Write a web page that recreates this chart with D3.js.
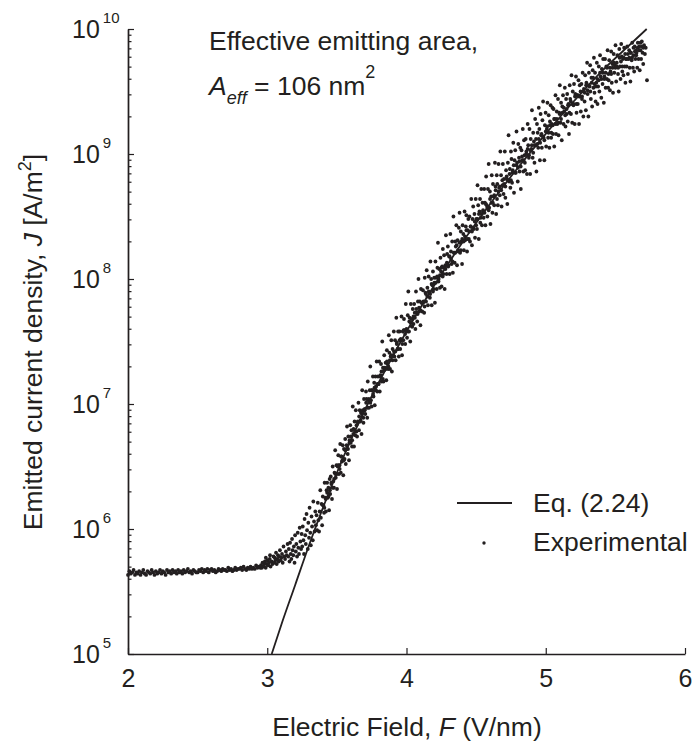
<!DOCTYPE html>
<html><head><meta charset="utf-8">
<script src="https://cdn.jsdelivr.net/npm/d3@7"></script>
<style>
body{margin:0;background:#fff;}
svg{display:block;font-family:"Liberation Sans",Arial,Helvetica,sans-serif;}
</style></head><body>
<svg id="chart" width="697" height="748"></svg>
<script>
// ---------- DATA ----------
const xTicks = [2, 3, 4, 5, 6];
const yDecades = [5, 6, 7, 8, 9, 10];
const yMinorMultipliers = [2, 3, 4, 5, 6, 7, 8, 9];

// Eq. (2.24) curve (F in V/nm, J in A/m^2)
const eqF = [3.032, 3.10, 3.20, 3.30, 3.40, 3.50, 3.60, 3.70, 3.80, 3.90, 4.00, 4.20, 4.40, 4.60, 4.80, 5.00, 5.20, 5.40, 5.60, 5.725];
const eqJ = [1.00e5, 1.70e5, 3.55e5, 7.41e5, 1.48e6, 2.82e6, 5.13e6, 8.91e6, 1.48e7, 2.40e7, 3.80e7, 8.91e7, 1.95e8, 3.98e8, 7.76e8, 1.45e9, 2.63e9, 4.57e9, 7.41e9, 1.0e10];

// Experimental points: plateau (F, log10 J)
const plateauF = [2.00,2.01,2.02,2.03,2.04,2.05,2.06,2.07,2.08,2.09,
2.10,2.11,2.12,2.13,2.14,2.15,2.16,2.17,2.18,2.19,
2.20,2.21,2.22,2.23,2.24,2.25,2.26,2.27,2.28,2.29,
2.30,2.31,2.32,2.33,2.34,2.35,2.36,2.37,2.38,2.39,
2.40,2.41,2.42,2.43,2.44,2.45,2.46,2.47,2.48,2.49,
2.50,2.51,2.52,2.53,2.54,2.55,2.56,2.57,2.58,2.59,
2.60,2.61,2.62,2.63,2.64,2.65,2.66,2.67,2.68,2.69,
2.70,2.71,2.72,2.73,2.74,2.75,2.76,2.77,2.78,2.79,
2.80,2.81,2.82,2.83,2.84,2.85,2.86,2.87,2.88,2.89,
2.90,2.91,2.92,2.93,2.94,2.95];
const plateauLog10J = [5.633,5.663,5.643,5.653,5.672,5.633,5.653,5.643,5.663,5.633,
5.653,5.672,5.643,5.633,5.663,5.653,5.643,5.672,5.653,5.633,
5.663,5.643,5.653,5.672,5.643,5.663,5.653,5.633,5.672,5.653,
5.663,5.643,5.672,5.653,5.663,5.643,5.672,5.653,5.663,5.643,
5.672,5.653,5.663,5.681,5.653,5.663,5.643,5.672,5.663,5.653,
5.653,5.672,5.663,5.681,5.653,5.672,5.663,5.681,5.653,5.672,
5.681,5.663,5.672,5.653,5.663,5.681,5.672,5.663,5.681,5.672,
5.672,5.663,5.690,5.672,5.681,5.663,5.672,5.690,5.672,5.681,
5.681,5.690,5.672,5.699,5.681,5.672,5.690,5.681,5.699,5.681,
5.690,5.681,5.708,5.690,5.699,5.690];

// Experimental points: rising part, scattered (F, log10 J)
const riseF = [
2.955,2.961,2.966,2.972,2.978,2.983,2.989,2.990,2.995,3.001,3.007,3.012,3.018,3.020,3.024,3.031,3.038,3.045,
3.050,3.054,3.059,3.063,3.068,3.072,3.077,3.082,3.086,3.091,3.096,3.101,3.106,3.111,3.117,3.122,3.128,3.134,3.140,3.146,
3.151,3.155,3.160,3.164,3.169,3.173,3.178,3.182,3.187,3.191,3.196,3.200,3.205,3.209,3.214,3.219,3.223,3.228,3.233,3.238,3.243,3.247,
3.251,3.255,3.260,3.264,3.268,3.273,3.277,3.282,3.286,3.291,3.295,3.300,3.304,3.309,3.313,3.318,3.322,3.327,3.331,3.336,3.340,3.345,3.349,
3.354,3.358,3.363,3.367,3.372,3.376,3.381,3.385,3.390,3.394,3.399,3.403,3.408,3.412,3.417,3.421,3.426,3.430,3.435,3.439,3.444,3.448,
3.452,3.456,3.461,3.465,3.470,3.474,3.479,3.483,3.488,3.492,3.497,3.501,3.506,3.510,3.515,3.519,3.524,3.528,3.533,3.537,3.542,3.546,
3.551,3.555,3.560,3.564,3.569,3.573,3.578,3.582,3.587,3.591,3.596,3.600,3.605,3.609,3.614,3.618,3.623,3.627,3.632,3.636,3.641,3.645,
3.650,3.655,3.659,3.664,3.668,3.673,3.677,3.682,3.686,3.691,3.695,3.700,3.704,3.709,3.713,3.718,3.722,3.727,3.731,3.736,3.740,3.745,
3.750,3.754,3.759,3.763,3.768,3.772,3.777,3.781,3.786,3.790,3.795,3.799,3.804,3.808,3.813,3.817,3.822,3.826,3.831,3.835,3.840,3.845,
3.850,3.855,3.859,3.864,3.868,3.873,3.877,3.882,3.886,3.891,3.895,3.900,3.904,3.909,3.913,3.918,3.922,3.927,3.931,3.936,3.940,3.945,
3.950,3.955,3.959,3.964,3.968,3.973,3.977,3.982,3.986,3.991,3.995,4.000,4.004,4.009,4.013,4.018,4.022,4.027,4.031,4.036,4.040,4.045,
4.050,4.055,4.059,4.064,4.068,4.073,4.077,4.082,4.086,4.091,4.095,4.100,4.104,4.109,4.113,4.118,4.122,4.127,4.131,4.136,4.140,4.145,
4.150,4.154,4.159,4.163,4.168,4.172,4.177,4.181,4.186,4.190,4.195,4.199,4.204,4.208,4.213,4.217,4.222,4.226,4.231,4.235,4.240,4.244,4.248,
4.252,4.256,4.261,4.265,4.270,4.274,4.279,4.283,4.288,4.292,4.297,4.301,4.306,4.310,4.315,4.319,4.324,4.328,4.333,4.337,4.342,4.346,4.350,
4.354,4.358,4.363,4.367,4.372,4.376,4.381,4.385,4.390,4.394,4.399,4.403,4.408,4.412,4.417,4.421,4.426,4.430,4.435,4.439,4.444,4.448,
4.452,4.456,4.461,4.465,4.470,4.474,4.479,4.483,4.488,4.492,4.497,4.501,4.506,4.510,4.515,4.519,4.524,4.528,4.533,4.537,4.542,4.546,4.550,
4.554,4.558,4.563,4.567,4.572,4.576,4.581,4.585,4.590,4.594,4.599,4.603,4.608,4.612,4.617,4.621,4.626,4.630,4.635,4.639,4.644,4.648,
4.652,4.656,4.661,4.665,4.670,4.674,4.679,4.683,4.688,4.692,4.697,4.701,4.706,4.710,4.715,4.719,4.724,4.728,4.733,4.737,4.742,4.746,4.750,
4.754,4.758,4.763,4.767,4.772,4.776,4.781,4.785,4.790,4.794,4.799,4.803,4.808,4.812,4.817,4.821,4.826,4.830,4.835,4.839,4.844,4.848,
4.852,4.856,4.861,4.865,4.870,4.874,4.879,4.883,4.888,4.892,4.897,4.901,4.906,4.910,4.915,4.919,4.924,4.928,4.933,4.937,4.942,4.946,4.950,
4.954,4.958,4.963,4.967,4.972,4.976,4.981,4.985,4.990,4.994,4.999,5.003,5.008,5.012,5.017,5.021,5.026,5.030,5.035,5.039,5.044,5.048,
5.052,5.056,5.061,5.065,5.070,5.074,5.079,5.083,5.088,5.092,5.097,5.101,5.106,5.110,5.115,5.119,5.124,5.128,5.133,5.137,5.142,5.146,5.150,
5.154,5.158,5.163,5.167,5.172,5.176,5.181,5.185,5.190,5.194,5.199,5.203,5.208,5.212,5.217,5.221,5.226,5.230,5.235,5.239,5.244,5.248,
5.252,5.256,5.261,5.265,5.270,5.274,5.279,5.283,5.288,5.292,5.297,5.301,5.306,5.310,5.315,5.319,5.324,5.328,5.333,5.337,5.342,5.346,5.350,
5.354,5.358,5.363,5.367,5.372,5.376,5.381,5.385,5.390,5.394,5.399,5.403,5.408,5.412,5.417,5.421,5.426,5.430,5.435,5.439,5.444,5.448,
5.452,5.456,5.461,5.465,5.470,5.474,5.479,5.483,5.488,5.492,5.497,5.501,5.506,5.510,5.515,5.519,5.524,5.528,5.533,5.537,5.542,5.546,5.550,
5.554,5.558,5.563,5.567,5.572,5.576,5.581,5.585,5.590,5.594,5.599,5.603,5.608,5.612,5.617,5.621,5.626,5.630,5.635,5.639,5.644,5.648,
5.652,5.657,5.661,5.666,5.671,5.675,5.680,5.685,5.690,5.695,5.700,5.706,5.712,5.718,5.727];
const riseLog10J = [
5.71,5.69,5.73,5.70,5.72,5.74,5.69,5.77,5.72,5.75,5.71,5.73,5.76,5.79,5.70,5.74,5.72,5.78,
5.73,5.77,5.75,5.81,5.72,5.76,5.79,5.74,5.78,5.83,5.75,5.77,5.80,5.73,5.86,5.78,5.76,5.82,5.79,5.88,
5.78,5.84,5.74,5.89,5.80,5.76,5.92,5.83,5.79,5.86,5.73,5.95,5.82,5.88,5.78,5.97,5.85,5.80,6.01,5.90,5.84,5.96,
5.86,6.02,5.91,5.80,6.08,5.95,5.88,6.12,5.99,5.84,6.05,5.93,6.17,5.97,5.87,6.10,6.02,5.91,6.22,6.06,5.98,6.14,6.03,
6.11,5.99,6.21,6.07,5.98,6.14,6.31,6.09,6.20,6.03,6.26,6.19,6.13,6.37,6.25,6.14,6.31,6.37,6.25,6.33,6.15,6.40,
6.28,6.42,6.36,6.24,6.50,6.38,6.33,6.45,6.63,6.41,6.51,6.32,6.50,6.59,6.44,6.51,6.68,6.45,6.58,6.54,6.67,6.43,
6.64,6.56,6.72,6.52,6.64,6.82,6.60,6.74,6.55,6.71,6.83,6.69,6.79,6.66,6.98,6.76,6.66,6.86,6.75,6.95,6.83,6.74,
6.86,7.01,6.79,6.95,6.86,6.93,6.76,7.11,6.95,6.85,7.04,6.95,6.92,7.10,7.04,6.89,7.18,7.03,6.97,7.11,7.30,7.03,
6.98,7.11,7.22,7.06,7.17,6.99,7.22,7.14,7.34,7.10,7.22,7.16,7.34,7.10,7.23,7.32,7.18,7.50,7.29,7.18,7.39,7.29,
7.33,7.19,7.43,7.32,7.28,7.55,7.41,7.28,7.38,7.51,7.26,7.44,7.39,7.58,7.38,7.51,7.35,7.69,7.49,7.44,7.58,7.38,
7.58,7.44,7.52,7.70,7.39,7.58,7.51,7.68,7.59,7.48,7.80,7.59,7.53,7.71,7.90,7.58,7.69,7.50,7.80,7.68,7.62,7.76,
7.64,7.80,7.73,7.60,7.90,7.73,7.66,7.82,8.00,7.74,7.82,7.63,7.92,7.81,7.74,7.91,7.82,7.73,8.01,7.89,7.82,8.07,
7.93,7.79,8.02,7.89,7.85,8.14,8.00,7.79,7.95,8.06,7.92,8.01,7.81,8.14,8.01,7.92,8.09,8.29,8.00,8.08,7.93,8.17,8.06,
7.94,8.10,8.24,8.04,8.19,7.92,8.11,8.35,8.04,8.20,8.26,8.11,8.18,8.04,8.36,8.22,8.12,8.30,8.05,8.50,8.21,8.13,8.30,
8.26,8.43,8.11,8.31,8.22,8.41,8.53,8.21,8.38,8.30,8.12,8.43,8.36,8.23,8.54,8.31,8.42,8.51,8.22,8.39,8.48,8.32,
8.50,8.30,8.42,8.64,8.27,8.48,8.58,8.40,8.52,8.33,8.64,8.48,8.40,8.75,8.59,8.32,8.54,8.64,8.49,8.72,8.43,8.61,8.54,
8.49,8.72,8.61,8.43,8.82,8.59,8.50,8.72,8.92,8.57,8.70,8.44,8.66,8.83,8.53,8.76,8.66,8.59,8.93,8.74,8.52,8.83,
8.76,8.59,8.92,8.73,8.67,9.02,8.83,8.58,8.79,8.92,8.68,8.76,9.02,8.65,8.87,8.82,8.60,8.93,9.15,8.78,8.88,8.73,9.02,
8.96,8.77,8.87,9.09,8.69,8.95,9.03,8.85,9.18,8.93,8.78,9.08,8.97,8.86,9.05,8.72,9.03,8.95,9.20,8.86,9.11,8.99,
8.87,9.12,9.02,8.84,9.24,9.07,8.97,9.20,8.84,9.12,9.04,9.35,8.97,9.17,9.10,8.93,9.28,9.07,8.86,9.24,9.17,9.05,9.37,
9.20,8.95,9.32,9.15,9.05,9.27,9.42,9.13,8.95,9.23,9.33,9.06,9.20,9.41,9.13,9.31,9.05,9.26,9.39,9.13,9.24,9.37,
9.16,9.36,9.06,9.28,9.47,9.16,9.34,9.24,9.44,9.15,9.33,9.55,9.25,9.41,9.11,9.38,9.47,9.24,9.34,9.53,9.22,9.44,9.32,
9.48,9.26,9.40,9.16,9.55,9.44,9.32,9.63,9.25,9.50,9.39,9.56,9.24,9.48,9.62,9.33,9.47,9.40,9.59,9.24,9.55,9.46,
9.34,9.56,9.46,9.65,9.30,9.52,9.42,9.63,9.35,9.57,9.73,9.48,9.30,9.65,9.54,9.71,9.44,9.61,9.38,9.67,9.53,9.77,9.49,
9.65,9.42,9.57,9.73,9.40,9.54,9.70,9.50,9.79,9.62,9.45,9.68,9.56,9.76,9.41,9.62,9.76,9.53,9.70,9.60,9.83,9.53,
9.59,9.75,9.51,9.66,9.82,9.57,9.72,9.49,9.80,9.65,9.71,9.87,9.58,9.70,9.79,9.64,9.50,9.84,9.70,9.60,9.88,9.78,9.66,
9.76,9.63,9.85,9.70,9.57,9.76,9.70,9.86,9.64,9.76,9.83,9.69,9.58,9.81,9.75,9.89,9.69,9.79,9.66,9.86,9.76,9.83,
9.81,9.69,9.89,9.76,9.86,9.67,9.83,9.76,9.90,9.81,9.72,9.87,9.80,9.85,9.59];

// Experimental points: dense core of the rising band (F, log10 J)
const coreF = [
3.40,3.41,3.42,3.43,3.44,3.45,3.46,3.47,3.48,3.49,
3.50,3.51,3.52,3.53,3.54,3.55,3.56,3.57,3.58,3.59,
3.60,3.61,3.62,3.63,3.64,3.65,3.66,3.67,3.68,3.69,
3.70,3.71,3.72,3.73,3.74,3.75,3.76,3.77,3.78,3.79,
3.80,3.81,3.82,3.83,3.84,3.85,3.86,3.87,3.88,3.89,
3.90,3.91,3.92,3.93,3.94,3.95,3.96,3.97,3.98,3.99,
4.00,4.01,4.02,4.03,4.04,4.05,4.06,4.07,4.08,4.09,
4.10,4.11,4.12,4.13,4.14,4.15,4.16,4.17,4.18,4.19,
4.20,4.21,4.22,4.23,4.24,4.25,4.26,4.27,4.28,4.29,
4.30,4.31,4.32,4.33,4.34,4.35,4.36,4.37,4.38,4.39,
4.40,4.41,4.42,4.43,4.44,4.45,4.46,4.47,4.48,4.49,
4.50,4.51,4.52,4.53,4.54,4.55,4.56,4.57,4.58,4.59,
4.60,4.61,4.62,4.63,4.64,4.65,4.66,4.67,4.68,4.69,
4.70,4.71,4.72,4.73,4.74,4.75,4.76,4.77,4.78,4.79,
4.80,4.81,4.82,4.83,4.84,4.85,4.86,4.87,4.88,4.89,
4.90,4.91,4.92,4.93,4.94,4.95,4.96,4.97,4.98,4.99,
5.00,5.01,5.02,5.03,5.04,5.05,5.06,5.07,5.08,5.09,
5.10,5.11,5.12,5.13,5.14,5.15,5.16,5.17,5.18,5.19,
5.20,5.21,5.22,5.23,5.24,5.25,5.26,5.27,5.28,5.29,
5.30,5.31,5.32,5.33,5.34,5.35,5.36,5.37,5.38,5.39,
5.40,5.41,5.42,5.43,5.44,5.45,5.46,5.47,5.48,5.49,
5.50,5.51,5.52,5.53,5.54,5.55,5.56,5.57,5.58,5.59,
5.60,5.61,5.62,5.63,5.64,5.65,5.66,5.67,5.68,5.69,5.70];
const coreLog10J = [
6.19,6.17,6.24,6.29,6.26,6.31,6.37,6.33,6.40,6.44,
6.44,6.51,6.48,6.58,6.55,6.55,6.63,6.67,6.64,6.69,
6.74,6.71,6.80,6.78,6.78,6.85,6.90,6.87,6.92,6.89,
6.96,7.01,6.97,7.04,7.01,7.11,7.08,7.13,7.11,7.16,
7.16,7.22,7.26,7.20,7.27,7.28,7.34,7.30,7.35,7.39,
7.35,7.42,7.42,7.48,7.44,7.51,7.51,7.48,7.59,7.56,
7.60,7.58,7.66,7.65,7.62,7.70,7.69,7.76,7.72,7.77,
7.75,7.81,7.81,7.78,7.88,7.86,7.90,7.88,7.96,7.90,
7.97,7.97,8.02,7.98,8.03,8.09,8.02,8.09,8.08,8.13,
8.10,8.18,8.16,8.14,8.21,8.21,8.27,8.23,8.29,8.23,
8.32,8.30,8.34,8.39,8.32,8.38,8.42,8.38,8.41,8.46,
8.43,8.48,8.52,8.45,8.52,8.55,8.53,8.60,8.57,8.55,
8.64,8.61,8.61,8.67,8.71,8.64,8.70,8.74,8.71,8.75,
8.80,8.74,8.80,8.79,8.84,8.79,8.85,8.91,8.85,8.91,
8.89,8.94,8.90,8.98,8.95,8.93,9.00,9.04,8.99,9.03,
9.07,9.01,9.07,9.12,9.08,9.12,9.09,9.16,9.14,9.11,
9.18,9.22,9.17,9.23,9.17,9.23,9.28,9.24,9.28,9.25,
9.32,9.28,9.33,9.37,9.31,9.36,9.39,9.33,9.42,9.40,
9.40,9.46,9.40,9.47,9.46,9.50,9.44,9.50,9.49,9.55,
9.51,9.55,9.50,9.57,9.61,9.56,9.54,9.60,9.59,9.65,
9.60,9.65,9.60,9.65,9.69,9.64,9.69,9.64,9.69,9.73,
9.69,9.73,9.69,9.77,9.74,9.70,9.77,9.80,9.76,9.80,
9.77,9.81,9.77,9.85,9.82,9.79,9.85,9.83,9.89,9.86,9.85];

// ---------- CHART ----------
const ink = "#231f20";
const svg = d3.select("#chart");
const x = d3.scaleLinear().domain([2, 6]).range([128, 685]);
const y = d3.scaleLog().domain([1e5, 1e10]).range([654, 29]);

const minorVals = [];
yDecades.slice(0, -1).forEach(d => yMinorMultipliers.forEach(m => minorVals.push(m * Math.pow(10, d))));

function styleAxis(g) {
  g.selectAll("path.domain").attr("stroke", ink).attr("stroke-width", 1.4);
  g.selectAll(".tick line").attr("stroke", ink).attr("stroke-width", 1.2);
}

// y axis (minor + major ticks, pointing inward)
svg.append("g").attr("transform", `translate(${x(2)},0)`)
  .call(d3.axisLeft(y).tickValues(minorVals).tickSize(-3.5).tickSizeOuter(0).tickFormat(""))
  .call(styleAxis);
svg.append("g").attr("transform", `translate(${x(2)},0)`)
  .call(d3.axisLeft(y).tickValues(yDecades.map(d => Math.pow(10, d))).tickSize(-6).tickSizeOuter(0).tickFormat(""))
  .call(styleAxis);

// y tick labels 10^n (left aligned)
const yLab = svg.append("g").attr("fill", ink);
yDecades.forEach(d => {
  const ty = y(Math.pow(10, d));
  const t = yLab.append("text").attr("x", 72).attr("y", ty + 9).attr("font-size", 25);
  t.append("tspan").text("10");
  t.append("tspan").attr("font-size", 15).attr("dx", 3).attr("dy", -15).text(d);
});

// x axis
const xAx = svg.append("g").attr("transform", `translate(0,${y(1e5)})`)
  .call(d3.axisBottom(x).tickValues(xTicks).tickSize(-6).tickSizeOuter(0).tickPadding(15).tickFormat(d3.format("d")))
  .call(styleAxis);
xAx.selectAll("text").attr("font-size", 25).attr("fill", ink).attr("font-family", null);

// experimental points
const expPts = d3.zip(plateauF, plateauLog10J)
  .concat(d3.zip(riseF, riseLog10J))
  .concat(d3.zip(coreF, coreLog10J));
svg.append("g").selectAll("circle").data(expPts).join("circle")
  .attr("cx", d => x(d[0]))
  .attr("cy", d => y(Math.pow(10, d[1])))
  .attr("r", 1.9)
  .attr("fill", ink);

// Eq. (2.24) line
const line = d3.line().x(d => x(d[0])).y(d => y(d[1])).curve(d3.curveMonotoneX);
svg.append("path").datum(d3.zip(eqF, eqJ))
  .attr("d", line).attr("fill", "none").attr("stroke", ink).attr("stroke-width", 1.8);

// annotation
const ann = svg.append("g").attr("fill", ink).attr("font-size", 26.5);
ann.append("text").attr("x", 209).attr("y", 50).text("Effective emitting area,");
const t2 = ann.append("text").attr("x", 209).attr("y", 95);
t2.append("tspan").attr("font-style", "italic").text("A");
t2.append("tspan").attr("font-style", "italic").attr("font-size", 18).attr("dy", 9).text("eff");
t2.append("tspan").attr("dy", -9).text(" = 106 nm");
t2.append("tspan").attr("font-size", 18).attr("dy", -17).text("2");

// legend
const leg = svg.append("g").attr("fill", ink).attr("font-size", 26.5);
leg.append("line").attr("x1", 457).attr("x2", 512).attr("y1", 503).attr("y2", 503)
  .attr("stroke", ink).attr("stroke-width", 1.8);
leg.append("text").attr("x", 533).attr("y", 512).text("Eq. (2.24)");
leg.append("circle").attr("cx", 484).attr("cy", 543).attr("r", 1.7);
leg.append("text").attr("x", 533).attr("y", 551).text("Experimental");

// axis titles
const xt = svg.append("text").attr("x", 407).attr("y", 736).attr("text-anchor", "middle")
  .attr("fill", ink).attr("font-size", 26.5);
xt.append("tspan").text("Electric Field, ");
xt.append("tspan").attr("font-style", "italic").text("F");
xt.append("tspan").text(" (V/nm)");

const yt = svg.append("text").attr("transform", "translate(42,342) rotate(-90)")
  .attr("text-anchor", "middle").attr("fill", ink).attr("font-size", 26.5);
yt.append("tspan").text("Emitted current density, ");
yt.append("tspan").attr("font-style", "italic").text("J");
yt.append("tspan").text(" [A/m");
yt.append("tspan").attr("font-size", 18).attr("dy", -11).text("2");
yt.append("tspan").attr("dy", 11).text("]");
</script>
</body></html>
